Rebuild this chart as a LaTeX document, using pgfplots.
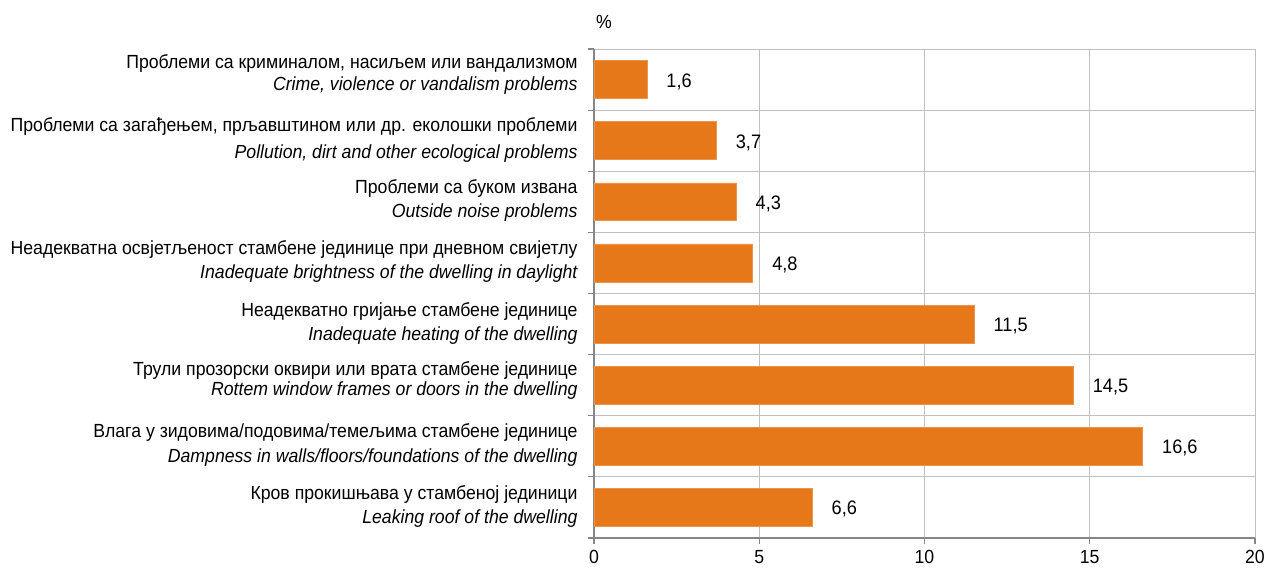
\documentclass[border=0pt]{standalone}
\usepackage{pgfplots}
\pgfplotsset{compat=1.18}
\usepackage{fontspec}
\setmainfont{Liberation Sans}[FakeStretch=0.93]
\definecolor{barorange}{RGB}{230,120,26}
\definecolor{gridgray}{RGB}{192,192,192}
\definecolor{axisgray}{RGB}{134,134,134}
\newcommand{\lblfont}{\fontsize{19bp}{22bp}\selectfont}
\newcommand{\valfont}{\fontsize{19.5bp}{22bp}\selectfont}
\begin{document}
\begin{tikzpicture}
\begin{axis}[
  scale only axis, width=661bp, height=489bp,
  xmin=0, xmax=20, ymin=0.5, ymax=8.5,
  axis lines*=left,
  axis line style={axisgray, line width=1.2pt},
  xtick={0,5,10,15,20},
  ytick={0.5,1.5,...,8.5}, yticklabels={},
  xmajorgrids, ymajorgrids,
  grid style={gridgray, line width=0.9pt},
  tick align=outside,
  major tick length=6bp,
  tick style={axisgray, line width=1.2pt},
  /pgf/number format/assume math mode=true,
  xticklabel style={font=\lblfont, yshift=-3bp},
  extra y ticks={1,2,3.065,4,5,6,7,8.065},
  extra y tick labels={
    {Кров прокишњава у стамбеној јединици\\[2bp] \itshape Leaking roof of the dwelling},
    {Влага у зидовима/подовима/темељима стамбене јединице\\[3bp] \itshape Dampness in walls/floors/foundations of the dwelling},
    {Трули прозорски оквири или врата стамбене јединице\\[-2bp] \itshape Rottem window frames or doors in the dwelling},
    {Неадекватно гријање стамбене јединице\\[2bp] \itshape Inadequate heating of the dwelling},
    {Неадекватна освјетљеност стамбене јединице при дневном свијетлу\\[2bp] \itshape Inadequate brightness of the dwelling in daylight},
    {Проблеми са буком извана\\[2bp] \itshape Outside noise problems},
    {Проблеми са загађењем, прљавштином или др. еколошки проблеми\\[5bp] \itshape Pollution, dirt and other ecological problems},
    {Проблеми са криминалом, насиљем или вандализмом\\[0bp] \itshape Crime, violence or vandalism problems}},
  extra y tick style={major tick length=0pt, grid=none,
    yticklabel style={align=right, font=\lblfont, xshift=-13bp, yshift=1bp}},
  xbar, bar width=0.62,
  nodes near coords={\pgfmathprintnumber[fixed,fixed zerofill,precision=1,use comma,assume math mode=true]{\pgfplotspointmeta}},
  nodes near coords align=horizontal,
  every node near coord/.append style={anchor=west, xshift=16bp, yshift=-2bp, font=\valfont, text=black},
  clip=false,
]
\addplot[fill=barorange, draw=barorange!80!white, line width=0.6pt] coordinates {
  (1.6,8) (3.7,7) (4.3,6) (4.8,5) (11.5,4) (14.5,3) (16.6,2) (6.6,1)
};
\node[font=\lblfont, anchor=center] at ([xshift=10bp, yshift=27bp]rel axis cs:0,1) {\%};
\end{axis}
\pgfresetboundingbox
\path[use as bounding box] (-594bp,-34bp) rectangle (672bp,538bp);
\end{tikzpicture}
\end{document}
